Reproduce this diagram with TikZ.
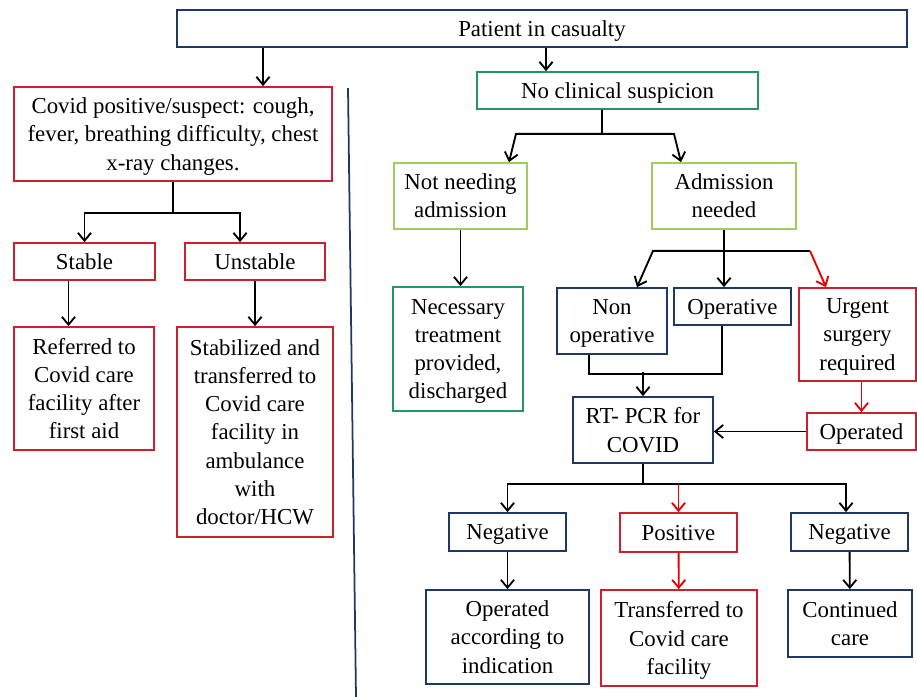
\documentclass[tikz,border=0pt]{standalone}
\usepackage{fontspec}
\setmainfont{Liberation Serif}
\newfontfamily\boxfont{Liberation Serif}
\usepackage{xcolor}
\usetikzlibrary{arrows.meta,positioning,calc}

\definecolor{navyc}{RGB}{31,56,100}
\definecolor{redc}{RGB}{204,32,44}
\definecolor{tealc}{RGB}{36,150,100}
\definecolor{limec}{RGB}{160,204,96}
\definecolor{arrred}{RGB}{232,0,0}

\tikzset{
  box/.style={rectangle, draw, align=center, inner sep=0pt, line width=1pt, text depth=0pt,
              font=\boxfont\fontsize{13}{16}\selectfont},
  navybox/.style={box, draw=navyc},
  redbox/.style={box, draw=redc},
  tealbox/.style={box, draw=tealc},
  limebox/.style={box, draw=limec},
  flow/.style={->, line width=1.05pt},
  redflow/.style={flow, draw=arrred},
}

\begin{document}
\begin{tikzpicture}[x=0.02cm, y=-0.02cm, >={Straight Barb[length=4.5pt,width=7.5pt]}]
\useasboundingbox (0,0) rectangle (917,697);

% top
\node[navybox, minimum width=14.6cm, minimum height=0.74cm] (patient) at (542,28.5) {Patient in casualty};

% covid side (left)
\node[redbox, minimum width=6.36cm, minimum height=1.88cm] (covid) at (173,134)
  {Covid positive/suspect: cough,\\ fever, breathing difficulty, chest\\ x-ray changes.};
\node[redbox, minimum width=2.82cm, minimum height=0.74cm] (stable) at (84.5,261.5) {Stable};
\node[redbox, minimum width=2.8cm, minimum height=0.74cm] (unstable) at (255,261.5) {Unstable};
\node[redbox, minimum width=2.8cm, minimum height=2.46cm] (referred) at (84,388.5)
  {Referred to\\ Covid care\\ facility after\\ first aid};
\node[redbox, minimum width=3.12cm, minimum height=4.2cm] (stabilized) at (255,432)
  {Stabilized and\\ transferred to\\ Covid care\\ facility in\\ ambulance\\ with\\ doctor/HCW};

% divider
\draw[navyc, line width=1pt] (348,88) -- (356,697);

% no suspicion side (right)
\node[tealbox, minimum width=5.62cm, minimum height=0.74cm] (noclin) at (617.5,90.5) {No clinical suspicion};
\node[limebox, minimum width=2.66cm, minimum height=1.32cm] (notneed) at (460.5,196) {Not needing\\ admission};
\node[limebox, minimum width=2.88cm, minimum height=1.32cm] (admit) at (724,196) {Admission\\ needed};
\node[tealbox, minimum width=2.6cm, minimum height=2.48cm] (necessary) at (458,349)
  {Necessary\\ treatment\\ provided,\\ discharged};
\node[navybox, minimum width=2.2cm, minimum height=1.32cm] (nonop) at (612,321) {Non\\ operative};
\node[navybox, minimum width=2.34cm, minimum height=0.74cm] (operative) at (732.5,306.5) {Operative};
\node[redbox, minimum width=2.34cm, minimum height=1.86cm] (urgent) at (857.5,334.5) {Urgent\\ surgery\\ required};
\node[navybox, minimum width=2.8cm, minimum height=1.32cm] (rtpcr) at (643,430) {RT- PCR for\\ COVID};
\node[redbox, minimum width=2.18cm, minimum height=0.74cm] (operated) at (861.5,431.5) {Operated};
\node[navybox, minimum width=2.34cm, minimum height=0.76cm] (nega) at (507.5,532) {Negative};
\node[redbox, minimum width=2.34cm, minimum height=0.78cm] (pos) at (678.5,532.5) {Positive};
\node[navybox, minimum width=2.34cm, minimum height=0.76cm] (negb) at (849.5,532) {Negative};
\node[navybox, minimum width=3.26cm, minimum height=1.88cm] (opaccord) at (507.5,637)
  {Operated\\ according to\\ indication};
\node[redbox, minimum width=3.12cm, minimum height=1.92cm] (transferred) at (679,638)
  {Transferred to\\ Covid care\\ facility};
\node[navybox, minimum width=2.48cm, minimum height=1.34cm] (continued) at (850,623.5) {Continued\\ care};

% connectors from the top
\coordinate (c1) at ([xshift=1.8cm]covid.north);
\draw[flow] (c1 |- patient.south) -- (c1);
\coordinate (c2) at ([xshift=-1.43cm]noclin.north);
\draw[flow] (c2 |- patient.south) -- (c2);

% left branch
\draw[flow] (covid.south) -- ++(0,31) -| (stable.north);
\draw[flow] (covid.south) -- ++(0,31) -| ([xshift=-0.3cm]unstable.north);
\coordinate (s1) at ([xshift=-0.32cm]stable.south);
\draw[flow] (s1) -- (s1 |- referred.north);
\draw[flow] (unstable) -- (stabilized);

% right branch
\draw[flow] ([xshift=-0.31cm]noclin.south) -- ++(0,24) -- ++(-86,0) -- ([xshift=0.97cm]notneed.north);
\draw[flow] ([xshift=-0.31cm]noclin.south) -- ++(0,24) -- ++(72,0) -- ([xshift=-0.86cm]admit.north);
\draw[flow] (notneed.south) -- (notneed.south |- necessary.north);

\coordinate (ahub) at ([yshift=-0.42cm]admit.south);
\draw[flow] (admit.south) -- (admit.south |- operative.north);
\draw[flow] (ahub) -- ++(-71,0) -- ([xshift=0.5cm]nonop.north);
\draw[line width=1.05pt] (ahub) -- ++(86,0) coordinate (rhub);
\draw[redflow] (rhub) -- ([xshift=-0.63cm]urgent.north);

\draw[line width=1.05pt] ([xshift=-0.46cm]nonop.south) |- ([xshift=-0.21cm,yshift=-0.96cm]operative.south)
  -- ([xshift=-0.21cm]operative.south);
\draw[flow] ([yshift=0.48cm]rtpcr.north) -- (rtpcr.north);

\draw[redflow] (operated.north |- urgent.south) -- (operated.north);
\draw[flow] (operated.west) -- (rtpcr.east |- operated.west);

\coordinate (phub) at ([yshift=-0.4cm]rtpcr.south);
\draw[flow] (rtpcr.south) -- (phub) -| (nega.north);
\draw[flow] (rtpcr.south) -- (phub) -| ([xshift=-0.07cm]negb.north);
\draw[redflow] (phub -| pos.north) -- (pos.north);

\draw[flow] (nega) -- (opaccord);
\draw[redflow] (pos) -- (transferred);
\draw[flow] (negb) -- (continued);

\end{tikzpicture}
\end{document}
